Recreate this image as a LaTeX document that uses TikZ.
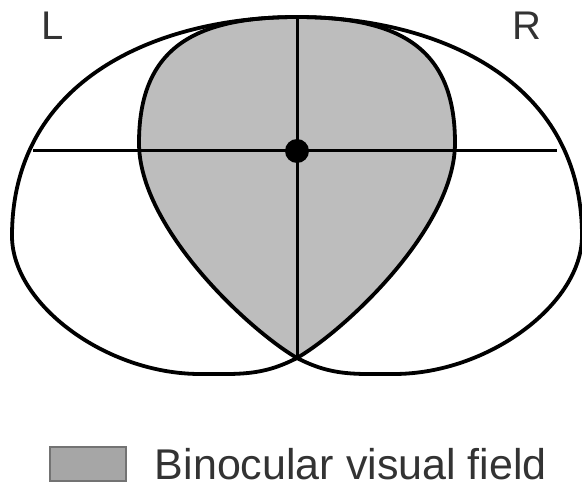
\documentclass[tikz,border=0pt]{standalone}
\usepackage{fontspec}
\setmainfont{Liberation Sans}
\usetikzlibrary{positioning}

% outline of the left eye's field, in px of the reference (y upwards)
\newcommand{\eyefield}{(297,130) .. controls (345,158) and (455,260) .. (455,345)
  .. controls (455,440) and (400,471) .. (297,471)
  .. controls (160,471) and (12,410) .. (12,252)
  .. controls (12,184) and (106,114) .. (200,114)
  .. controls (240,114) and (262,112) .. (297,130) -- cycle}

\begin{document}
\begin{tikzpicture}[x=1pt,y=1pt,
  field/.style={draw,line width=3.8pt,line join=round},
  axis/.style={line width=3pt},
  binoc/.style={fill=black!26},
  lbl/.style={font=\fontsize{40}{48}\selectfont,text=black!80,inner sep=0pt}]
\useasboundingbox (0,0) rectangle (582,488);
% binocular part = overlap of both fields
\begin{scope}
\clip \eyefield;
\fill[binoc,xshift=594pt,xscale=-1] \eyefield;
\end{scope}
\coordinate (top) at (297,471);
\coordinate (cusp) at (297,130);
\coordinate (hl) at (33,337);
\coordinate (hr) at (557,337);
\draw[axis] (hl) -- (hr);
\draw[axis] (top) -- (cusp);
\draw[field] \eyefield;
\draw[field,xshift=594pt,xscale=-1] \eyefield;
\node[circle,fill=black,minimum size=24pt,inner sep=0pt] (fix) at (297,337) {};
\node[lbl] (L) at (53,462) {L};
\node[lbl] (R) at (527,462) {R};
% legend
\node[draw=black!55,line width=1.5pt,fill=black!35,minimum width=76pt,minimum height=34pt,inner sep=0pt] (key) at (88,24) {};
\node[lbl,font=\fontsize{43}{50}\selectfont,right=28pt of key] (keytext) {Binocular visual field};
\end{tikzpicture}
\end{document}
